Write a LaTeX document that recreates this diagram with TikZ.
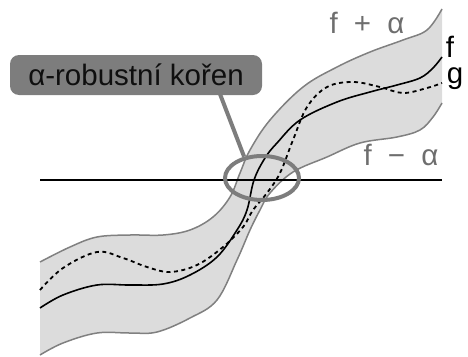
\documentclass[tikz,border=0pt]{standalone}
\usepackage{fontspec}
\setmainfont{Liberation Sans}
\usetikzlibrary{shapes.geometric}
\begin{document}
\begin{tikzpicture}[x=1pt,y=-1pt,
  band/.style={fill=bandgray,draw=none},
  bandedge/.style={draw=edgegray,line width=1.5pt},
  fcurve/.style={draw=black,line width=1.6pt},
  gcurve/.style={draw=black,line width=1.8pt,dash pattern=on 4pt off 3.5pt},
  callout/.style={draw=calloutgray,line width=4pt},
  lbl/.style={font=\fontsize{29.5}{32}\selectfont,inner sep=0pt},
  graylbl/.style={lbl,text=labelgray}]
\definecolor{bandgray}{RGB}{220,220,220}
\definecolor{edgegray}{RGB}{128,128,128}
\definecolor{calloutgray}{RGB}{125,125,125}
\definecolor{labelgray}{RGB}{110,110,110}
\definecolor{boxtext}{RGB}{15,15,15}
\useasboundingbox (0,0) rectangle (468,356);
% band
\fill[bandgray] plot[smooth,tension=0.6] coordinates {(40,262) (70,247) (97,237) (130,235) (163,235) (190,230) (213,217) (230,197) (240,173) (250,150) (270,120) (303,87) (337,67) (370,52) (403,40) (427,30) (442,9)}
  -- plot[smooth,tension=0.6] coordinates {(442,103) (433,117) (420,130) (397,137) (360,143) (327,157) (293,172) (270,193) (260,210) (250,230) (237,260) (217,300) (190,318) (157,332) (130,333) (97,333) (63,343) (40,355)} -- cycle;
\draw[bandedge] plot[smooth,tension=0.6] coordinates {(40,262) (70,247) (97,237) (130,235) (163,235) (190,230) (213,217) (230,197) (240,173) (250,150) (270,120) (303,87) (337,67) (370,52) (403,40) (427,30) (442,9)};
\draw[bandedge] plot[smooth,tension=0.6] coordinates {(442,103) (433,117) (420,130) (397,137) (360,143) (327,157) (293,172) (270,193) (260,210) (250,230) (237,260) (217,300) (190,318) (157,332) (130,333) (97,333) (63,343) (40,355)};
% f
\draw[fcurve] plot[smooth,tension=0.6] coordinates {(40,308) (63,295) (97,285) (130,285) (163,284) (190,275) (217,257) (237,230) (247,210) (254,180) (265,158) (277,143) (300,120) (337,102) (370,92) (397,85) (420,78) (433,68) (442,57)};
% g
\draw[gcurve] plot[smooth,tension=0.6] coordinates {(40,290) (63,268) (97,252) (123,258) (147,267) (170,272) (197,265) (223,247) (243,227) (253,210) (267,193) (280,173) (293,140) (307,107) (327,87) (353,82) (380,87) (403,93) (427,88) (442,83)};
% axis
\coordinate (axL) at (40,180);
\coordinate (axR) at (442,180);
\draw[black,line width=1.6pt] (axL) -- (axR);
% root ellipse
\node[draw=calloutgray,line width=4pt,ellipse,minimum width=74pt,minimum height=44pt,inner sep=0pt] (root) at (262,178) {};
% callout box
\node[fill=calloutgray,rounded corners=9pt,minimum width=252pt,minimum height=40pt,inner sep=0pt,lbl,text=boxtext] (box) at (136,75) {α-robustní kořen};
\coordinate (cstart) at (220,94);
\draw[callout] (cstart) -- (root.130);
% labels
\node[graylbl] (fpa) at (367,23) {f\hspace{0.55em}+\hspace{0.55em}α};
\node[graylbl] (fma) at (401,155) {f\hspace{0.55em}−\hspace{0.55em}α};
\node[lbl] (flbl) at (450,47) {f};
\node[lbl] (glbl) at (455,79) {g};
\end{tikzpicture}
\end{document}
